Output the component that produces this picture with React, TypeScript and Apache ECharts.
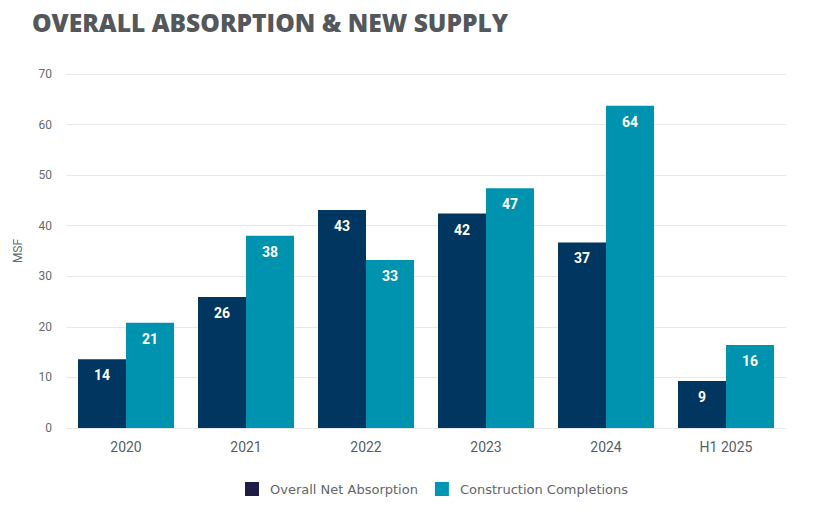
import React, { useEffect, useRef } from "react";
import * as echarts from "echarts";

const categories = ["2020", "2021", "2022", "2023", "2024", "H1 2025"];
const netAbsorption = [13.6, 25.9, 43.1, 42.4, 36.7, 9.3];
const completions = [20.8, 38.0, 33.2, 47.4, 63.7, 16.4];
const yTicks = { min: 0, max: 70, interval: 10 };

const NAVY = "#003660";
const TEAL = "#0093b0";

export default function App() {
  const ref = useRef<HTMLDivElement>(null);

  useEffect(() => {
    if (!ref.current) return;
    const chart = echarts.init(ref.current, undefined, { renderer: "svg" });
    const valueLabel = {
      show: true,
      position: "insideTop",
      distance: 9,
      color: "#ffffff",
      fontFamily: "Roboto",
      fontWeight: "bold",
      fontSize: 14,
      formatter: (p: any) => String(Math.round(p.value)),
    };
    chart.setOption({
      animation: false,
      title: {
        text: "OVERALL ABSORPTION & NEW SUPPLY",
        left: 32,
        top: 9,
        padding: 0,
        textStyle: {
          fontFamily: "Open Sans",
          fontWeight: 800,
          fontSize: 24.6,
          lineHeight: 26,
          color: "#54585b",
        },
      },
      legend: {
        bottom: 10,
        left: 240,
        itemWidth: 14,
        itemHeight: 14,
        itemGap: 17,
        icon: "rect",
        textStyle: {
          fontFamily: "DejaVu Sans",
          fontSize: 13,
          color: "#62666a",
          padding: [0, 0, 0, 6],
        },
        data: [
          { name: "Overall Net Absorption", itemStyle: { color: "#201c48" } },
          { name: "Construction Completions", itemStyle: { color: "#0095b3" } },
        ],
      },
      grid: { left: 66, right: 28, top: 74, bottom: 83 },
      xAxis: {
        type: "category",
        data: categories,
        axisLine: { show: false },
        axisTick: { show: false },
        axisLabel: { fontFamily: "Roboto", fontSize: 14, color: "#5a5e61", margin: 12 },
      },
      yAxis: {
        type: "value",
        ...yTicks,
        name: "MSF",
        nameLocation: "middle",
        nameGap: 42,
        nameTextStyle: { fontFamily: "Roboto", fontSize: 12, color: "#5f6e6e" },
        axisLabel: { fontFamily: "Roboto", fontSize: 12, color: "#666a6d", margin: 14 },
        splitLine: { lineStyle: { color: "#e6e8e9", width: 1 } },
      },
      series: [
        {
          name: "Overall Net Absorption",
          type: "bar",
          data: netAbsorption,
          barGap: "0%",
          barCategoryGap: "20%",
          itemStyle: { color: NAVY },
          label: valueLabel,
        },
        {
          name: "Construction Completions",
          type: "bar",
          data: completions,
          itemStyle: { color: TEAL },
          label: valueLabel,
        },
      ],
    });
    return () => chart.dispose();
  }, []);

  return <div ref={ref} style={{ width: 814, height: 511, margin: -8 }} />;
}
